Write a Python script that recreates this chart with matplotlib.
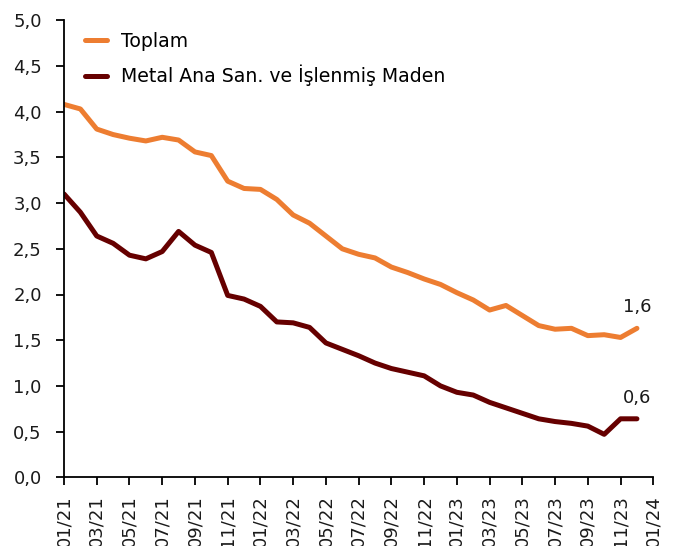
import matplotlib
matplotlib.use("Agg")
import matplotlib.pyplot as plt
import numpy as np

months = list(range(36))
toplam = [4.08, 4.03, 3.81, 3.75, 3.71, 3.68, 3.72, 3.69, 3.56, 3.52,
          3.24, 3.16, 3.15, 3.04, 2.87, 2.78, 2.64, 2.50, 2.44, 2.40,
          2.30, 2.24, 2.17, 2.11, 2.02, 1.94, 1.83, 1.88, 1.77, 1.66,
          1.62, 1.63, 1.55, 1.56, 1.53, 1.63]
metal = [3.10, 2.90, 2.64, 2.56, 2.43, 2.39, 2.47, 2.69, 2.54, 2.46,
         1.99, 1.95, 1.87, 1.70, 1.69, 1.64, 1.47, 1.40, 1.33, 1.25,
         1.19, 1.15, 1.11, 1.00, 0.93, 0.90, 0.82, 0.76, 0.70, 0.64,
         0.61, 0.59, 0.56, 0.47, 0.64, 0.64]
tick_pos = list(range(0, 37, 2))
tick_labels = ["01/21", "03/21", "05/21", "07/21", "09/21", "11/21",
               "01/22", "03/22", "05/22", "07/22", "09/22", "11/22",
               "01/23", "03/23", "05/23", "07/23", "09/23", "11/23", "01/24"]
yticks = [0.0, 0.5, 1.0, 1.5, 2.0, 2.5, 3.0, 3.5, 4.0, 4.5, 5.0]
names = ["Toplam", "Metal Ana San. ve İşlenmiş Maden"]
colors = ["#ED7D31", "#660000"]

plt.rcParams['font.family'] = ['DejaVu Sans']
fig = plt.figure(figsize=(6.81, 5.46), dpi=100)
ax = fig.add_axes([64/681, 68.7/546, (653.3-64)/681, 457/546])

for vals, name, c in zip([toplam, metal], names, colors):
    ax.plot(months, vals, color=c, lw=3.6, label=name, solid_capstyle='round',
            solid_joinstyle='round')
    ax.annotate(f"{vals[-1]:.1f}".replace('.', ','), (months[-1], vals[-1]),
                xytext=(0, 15), textcoords='offset points', ha='center',
                va='center', fontsize=13, color='#1a1a1a')

ax.set_xlim(0, 36)
ax.set_ylim(0, 5)
ax.set_yticks(yticks)
ax.set_yticklabels([f"{v:.1f}".replace('.', ',') for v in yticks], fontsize=13)
ax.set_xticks(tick_pos)
ax.set_xticklabels(tick_labels, rotation=90, fontsize=13)
for s in ['top', 'right']:
    ax.spines[s].set_visible(False)
for s in ['left', 'bottom']:
    ax.spines[s].set_linewidth(1.3)
ax.tick_params(axis='both', direction='out', length=6, width=1.3, colors='black',
               labelcolor='#1a1a1a')
ax.tick_params(axis='y', pad=10)
ax.tick_params(axis='x', pad=6.8)

leg = ax.legend(loc='upper left', frameon=False, fontsize=13.6, handlelength=1.2,
                handletextpad=0.7, labelspacing=0.74, bbox_to_anchor=(0.0065, 1.012))

fig.savefig("out.png", dpi=100)
